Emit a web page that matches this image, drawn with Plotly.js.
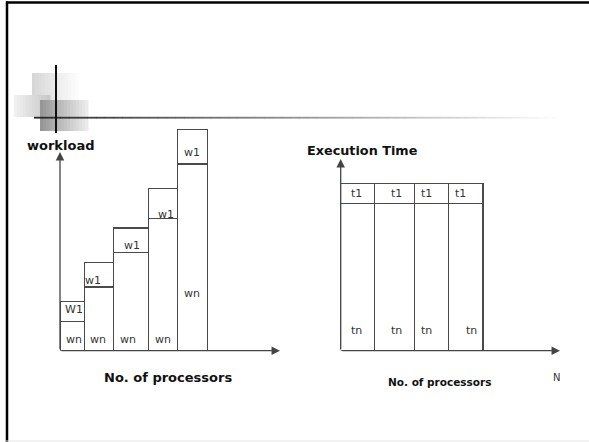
<!DOCTYPE html>
<html>
<head>
<meta charset="utf-8">
<script src="https://cdn.plot.ly/plotly-3.0.1.min.js"></script>
<style>html,body{margin:0;padding:0;background:#fff}#chart{width:589px;height:442px}</style>
</head>
<body>
<div id="chart"></div>
<script>
// ---- data ----
// Left diagram: fixed-time scaling, workload grows with processors
const leftEdges = [0, 2.43, 5.33, 8.83, 11.77, 14.77];
const leftWn = [2.94, 6.37, 9.84, 13.24, 18.67];
const leftW1 = [1.96, 2.47, 2.43, 3.0, 3.47];
const leftWnLabels = ['wn', 'wn', 'wn', 'wn', 'wn'];
const leftW1Labels = ['W1', 'w1', 'w1', 'w1', 'w1'];
// Right diagram: execution time stays constant
const rightEdges = [0, 3.4, 7.36, 10.8, 14.23];
const rightTn = [14.74, 14.74, 14.74, 14.74];
const rightT1 = [2.0, 2.0, 2.0, 2.0];
const rightTnLabels = ['tn', 'tn', 'tn', 'tn'];
const rightT1Labels = ['t1', 't1', 't1', 't1'];
const leftYTitle = 'workload';
const rightYTitle = 'Execution Time';
const xTitle = 'No. of processors';
const rightXEnd = 'N';

// ---- helpers ----
const W = 589, H = 442;
const px = x => x / W, py = y => 1 - y / H;
function centers(e){ const c=[]; for(let i=0;i<e.length-1;i++) c.push((e[i]+e[i+1])/2); return c; }
function widths(e){ const w=[]; for(let i=0;i<e.length-1;i++) w.push(e[i+1]-e[i]); return w; }
const FONT = 'DejaVu Sans';
const barLine = {color: '#4a4a4a', width: 1.3};
const lc = centers(leftEdges), lw = widths(leftEdges);
const rc = centers(rightEdges), rw = widths(rightEdges);

const traces = [
  {type:'bar', x: lc, y: leftWn, width: lw, xaxis:'x', yaxis:'y', marker:{color:'#fff', line:barLine}, hoverinfo:'skip'},
  {type:'bar', x: lc, y: leftW1, width: lw, xaxis:'x', yaxis:'y', marker:{color:'#fff', line:barLine}, hoverinfo:'skip'},
  {type:'bar', x: rc, y: rightTn, width: rw, xaxis:'x2', yaxis:'y2', marker:{color:'#fff', line:barLine}, hoverinfo:'skip'},
  {type:'bar', x: rc, y: rightT1, width: rw, xaxis:'x2', yaxis:'y2', marker:{color:'#fff', line:barLine}, hoverinfo:'skip'}
];

const hidden = {showgrid:false, zeroline:false, showticklabels:false, showline:false, ticks:'', fixedrange:true};
const annotations = [];
const lblFont = {family: FONT, size: 11, color: '#333'};

// bar labels (left)
const lWnY = [1.17, 1.17, 1.17, 1.17, 5.77];
const lW1Y = [4.17, 7.07, 10.57, 13.67, 19.87];
const lWnDx = [0.2, -0.1, -0.3, 0, -0.1];
const lW1Dx = [0.2, -0.55, 0.1, 0.3, -0.1];
for (let i = 0; i < lc.length; i++) {
  annotations.push({xref:'x', yref:'y', x: lc[i] + lWnDx[i], y: lWnY[i], xanchor:'center', yanchor:'middle', text: leftWnLabels[i], showarrow:false, font: lblFont});
  annotations.push({xref:'x', yref:'y', x: lc[i] + lW1Dx[i], y: lW1Y[i], xanchor:'center', yanchor:'middle', text: leftW1Labels[i], showarrow:false, font: lblFont});
}
// bar labels (right)
const rT1Dx = [-0.1, 0.15, -0.55, -0.55];
const rTnDx = [-0.15, 0.15, -0.55, 0.55];
for (let i = 0; i < rc.length; i++) {
  annotations.push({xref:'x2', yref:'y2', x: rc[i] + rT1Dx[i], y: 15.74, xanchor:'center', yanchor:'middle', text: rightT1Labels[i], showarrow:false, font: lblFont});
  annotations.push({xref:'x2', yref:'y2', x: rc[i] + rTnDx[i], y: 2.07, xanchor:'center', yanchor:'middle', text: rightTnLabels[i], showarrow:false, font: lblFont});
}
// axis arrows
const axCol = '#444';
function arrow(xr, yr, x, y, ax, ay, head){
  annotations.push({xref:xr, yref:yr, axref:xr, ayref:yr, x:x, y:y, ax:ax, ay:ay, text:'', showarrow:true,
    arrowhead: head, arrowsize: 1.3, arrowwidth: 1.3, arrowcolor: axCol, standoff: 0, startstandoff: 0});
}
arrow('x','y', 22, 0, 0, 0, 2);
arrow('x','y', 0, 19.87, 0, 0, 2);
arrow('x2','y2', 21.93, 0, 0, 0, 2);
arrow('x2','y2', 0, 19.17, 0, 0, 2);

// titles
function title(x, y, anchor, text, size, bold, col){
  annotations.push({xref:'paper', yref:'paper', x: px(x), y: py(y), xanchor: anchor, yanchor:'middle', text: text, showarrow:false,
    font:{family:FONT, size:size, color:col, weight: bold ? 'bold' : 'normal'}});
}
title(25, 146, 'left', leftYTitle, 13, true, '#111');
title(305, 150, 'left', rightYTitle, 12.8, true, '#111');
title(168, 377, 'center', xTitle, 13, true, '#111');
title(439, 382, 'center', xTitle, 10.5, true, '#111');
title(556, 377, 'center', rightXEnd, 10, false, '#333');

// decorative slide elements
const shapes = [];
function rect(x0,y0,x1,y1,col){ shapes.push({type:'rect', xref:'paper', yref:'paper', x0:px(x0), x1:px(x1), y0:py(y1), y1:py(y0), fillcolor:col, line:{width:0}, layer:'below'}); }
function gray(v){ v=Math.round(v); return 'rgb('+v+','+v+','+v+')'; }
function hgrad(x0,y0,x1,y1,c0,c1,n){ const s=(x1-x0)/n; for(let i=0;i<n;i++){ rect(x0+i*s, y0, x0+(i+1)*s+0.5, y1, gray(c0+(c1-c0)*i/(n-1))); } }
hgrad(32, 73, 78, 100, 215, 252, 14);
hgrad(14, 95, 50, 117, 240, 200, 12);
hgrad(40, 100, 88, 131, 150, 235, 16);
// gradient rule
hgrad(34, 116.8, 565, 118.6, 40, 255, 60);
// vertical dark rule
shapes.push({type:'line', xref:'paper', yref:'paper', x0:px(56), x1:px(56), y0:py(65), y1:py(133), line:{color:'#111', width:2}});
// slide frame
shapes.push({type:'line', xref:'paper', yref:'paper', x0:px(6), x1:1, y0:py(2.5), y1:py(2.5), line:{color:'#000', width:2.5}});
shapes.push({type:'line', xref:'paper', yref:'paper', x0:px(7), x1:px(7), y0:py(1.5), y1:0, line:{color:'#000', width:2.5}});
shapes.push({type:'line', xref:'paper', yref:'paper', x0:px(6), x1:1, y0:py(441), y1:py(441), line:{color:'#e6e6e6', width:1}});

const layout = {
  width: W, height: H, margin:{l:0,r:0,t:0,b:0}, paper_bgcolor:'#fff', plot_bgcolor:'rgba(0,0,0,0)',
  showlegend:false, barmode:'stack', bargap:0,
  xaxis: Object.assign({domain:[px(60), px(280)], range:[0,22], anchor:'y'}, hidden),
  yaxis: Object.assign({domain:[py(350.7), py(110)], range:[0,24.07], anchor:'x'}, hidden),
  xaxis2: Object.assign({domain:[px(340.7), px(570)], range:[0,22.93], anchor:'y2'}, hidden),
  yaxis2: Object.assign({domain:[py(350.7), py(110)], range:[0,24.07], anchor:'x2'}, hidden),
  annotations: annotations, shapes: shapes
};
Plotly.newPlot('chart', traces, layout, {displayModeBar:false, staticPlot:true});
</script>
</body>
</html>
